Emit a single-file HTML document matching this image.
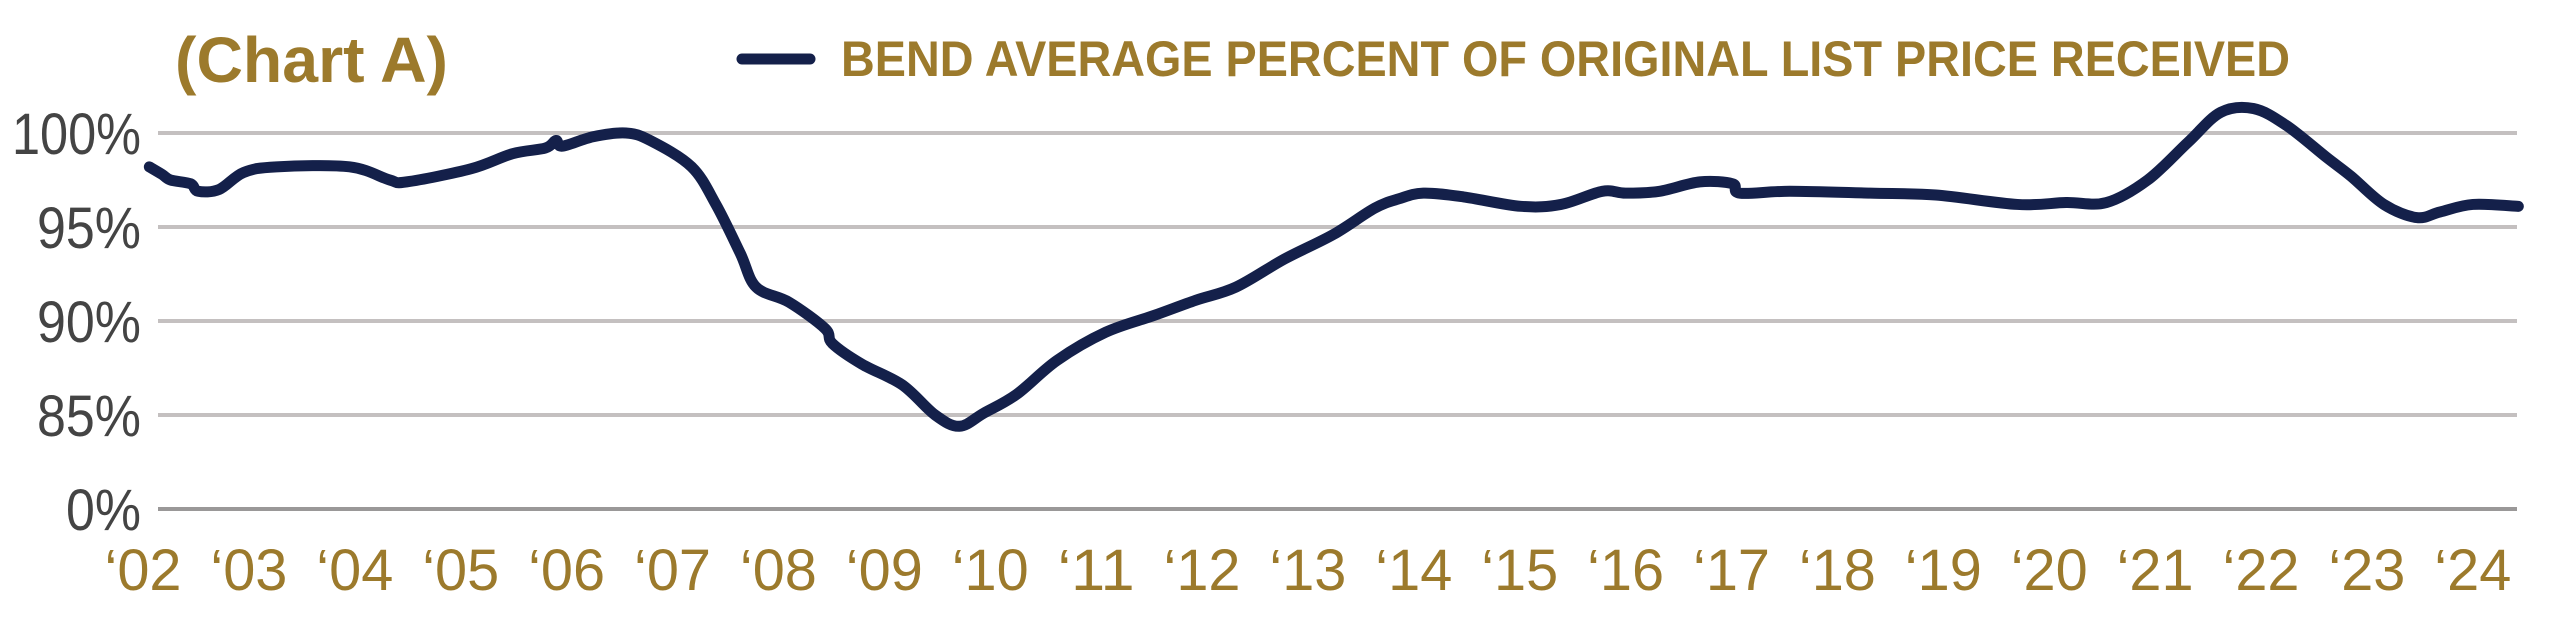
<!DOCTYPE html>
<html><head><meta charset="utf-8"><style>
html,body{margin:0;padding:0;background:#fff;}
svg{display:block;font-family:"Liberation Sans",sans-serif;}
</style></head><body>
<svg width="2550" height="625" viewBox="0 0 2550 625" xmlns="http://www.w3.org/2000/svg">
<text x="175" y="82" font-size="64" font-weight="bold" fill="#9c7a2c" textLength="273" lengthAdjust="spacingAndGlyphs">(Chart A)</text>
<line x1="742" y1="59" x2="810" y2="59" stroke="#14204a" stroke-width="11" stroke-linecap="round"/>
<text x="841" y="76" font-size="50" font-weight="bold" fill="#9c7a2c" textLength="1449" lengthAdjust="spacingAndGlyphs">BEND AVERAGE PERCENT OF ORIGINAL LIST PRICE RECEIVED</text>
<g id="grid"></g><g id="ylabels"></g><g id="xlabels"></g><g id="series"></g>
</svg>
<script>
const years=[2002.06,2002.18,2002.26,2002.45,2002.52,2002.72,2002.95,2003.26,2003.95,2004.33,2004.49,2005.1,2005.49,2005.8,2005.9,2005.96,2006.25,2006.56,2006.79,2007.18,2007.41,2007.64,2007.79,2008.1,2008.44,2008.51,2008.79,2009.17,2009.48,2009.71,2009.94,2010.25,2010.63,2011.09,2011.55,2011.94,2012.32,2012.78,2013.24,2013.63,2013.86,2014.09,2014.47,2015.01,2015.39,2015.78,2016.0,2016.32,2016.7,2017.01,2017.08,2017.55,2018.31,2018.93,2019.7,2020.16,2020.54,2020.93,2021.31,2021.62,2021.93,2022.24,2022.62,2022.85,2023.16,2023.47,2023.69,2024.0,2024.43];
const values=[98.2,97.8,97.5,97.3,96.9,97.0,97.9,98.2,98.2,97.5,97.4,98.1,98.9,99.2,99.6,99.3,99.8,100.0,99.6,98.2,96.2,93.6,91.8,91.0,89.6,88.8,87.7,86.6,85.0,84.4,85.1,86.1,87.9,89.4,90.3,91.1,91.8,93.3,94.6,96.0,96.5,96.8,96.6,96.1,96.2,96.9,96.8,96.9,97.4,97.3,96.8,96.9,96.8,96.7,96.2,96.3,96.3,97.5,99.5,101.1,101.3,100.4,98.7,97.7,96.2,95.5,95.8,96.2,96.1];
const yTicks=[100,95,90,85];
const yTickLabels=["100%","95%","90%","85%"];
const zeroLabel="0%";
const xTickYears=[2002,2003,2004,2005,2006,2007,2008,2009,2010,2011,2012,2013,2014,2015,2016,2017,2018,2019,2020,2021,2022,2023,2024];
const xTickLabels=["‘02","‘03","‘04","‘05","‘06","‘07","‘08","‘09","‘10","‘11","‘12","‘13","‘14","‘15","‘16","‘17","‘18","‘19","‘20","‘21","‘22","‘23","‘24"];

const NS="http://www.w3.org/2000/svg";
const X=y=>143+(y-2002)*105.9;
const Y=v=>133+(100-v)*18.8;
const zeroY=509, left=158, right=2517;
function mk(tag,attrs,parent){const e=document.createElementNS(NS,tag);for(const k in attrs)e.setAttribute(k,attrs[k]);parent.appendChild(e);return e;}
const grid=document.getElementById('grid'),yl=document.getElementById('ylabels'),xl=document.getElementById('xlabels'),ser=document.getElementById('series');
yTicks.forEach((t,i)=>{
  const l=mk('line',{x1:left,x2:right,y1:Y(t),y2:Y(t),stroke:'#c4c0c0','stroke-width':4},grid);
  
  
  const lab=yTickLabels[i];
  const tx=mk('text',{x:141,y:Y(t)+21,'text-anchor':'end','font-size':58,fill:'#444',textLength:lab.length===4?129:104,lengthAdjust:'spacingAndGlyphs'},yl);
  tx.textContent=lab;
  
  
});
const z=mk('line',{x1:left,x2:right,y1:zeroY,y2:zeroY,stroke:'#9a9898','stroke-width':4},grid);


const zt=mk('text',{x:141,y:zeroY+21,'text-anchor':'end','font-size':58,fill:'#444',textLength:75,lengthAdjust:'spacingAndGlyphs'},yl);
zt.textContent=zeroLabel;


xTickYears.forEach((yr,i)=>{
  const t=mk('text',{x:X(yr),y:590,'text-anchor':'middle','font-size':58,fill:'#9c7a2c',textLength:77,lengthAdjust:'spacingAndGlyphs'},xl);
  t.textContent=xTickLabels[i];
  
  
});
const pts=years.map((y,i)=>[X(y),Y(values[i])]);
let d='M'+pts[0][0]+','+pts[0][1];
for(let i=0;i<pts.length-1;i++){
  const p0=pts[Math.max(0,i-1)],p1=pts[i],p2=pts[i+1],p3=pts[Math.min(pts.length-1,i+2)];
  const c1=[p1[0]+(p2[0]-p0[0])/6,p1[1]+(p2[1]-p0[1])/6];
  const c2=[p2[0]-(p3[0]-p1[0])/6,p2[1]-(p3[1]-p1[1])/6];
  d+=' C'+c1[0]+','+c1[1]+' '+c2[0]+','+c2[1]+' '+p2[0]+','+p2[1];
}
const path=mk('path',{d:d,fill:'none',stroke:'#14204a','stroke-width':11,'stroke-linejoin':'round','stroke-linecap':'round'},ser);


</script>
</body></html>
